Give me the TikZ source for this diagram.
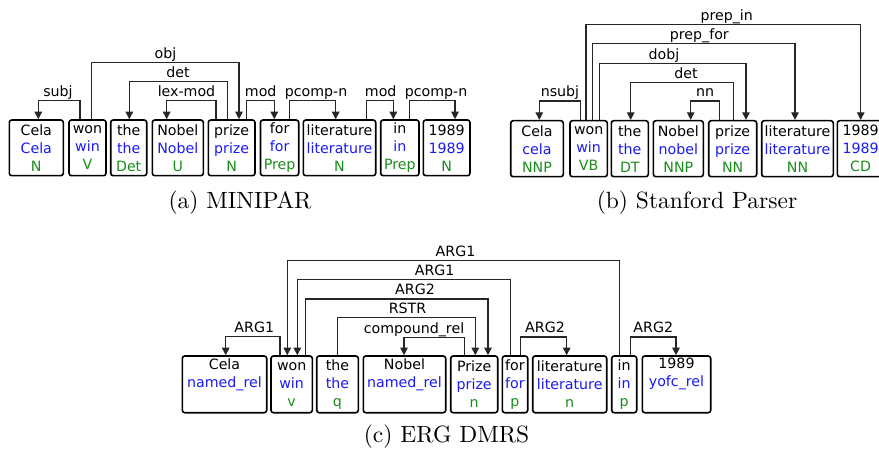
\documentclass[tikz,border=0pt]{standalone}
\usepackage{fontspec}
\usetikzlibrary{arrows.meta}
\newfontfamily\boxfont{DejaVu Sans}
\newfontfamily\capfont{lmroman10-regular}[Extension=.otf]
\definecolor{lemcol}{RGB}{25,25,245}
\definecolor{poscol}{RGB}{25,140,25}
\newcommand\lem[1]{\textcolor{lemcol}{#1}}
\newcommand\pos[1]{\textcolor{poscol}{#1}}
% word box: name, left, right, top, bottom, contents
\newcommand\wordbox[6]{%
  \node[wbox, minimum width={#3-#2}, minimum height={#5-#4}] (#1)
    at ({(#2+#3)/2},{(#4+#5)/2}) {#6};}
% arc: from node, x at source, level, x at target, to node
\newcommand\deparc[5]{%
  \draw[conn] (#1.north -| #2,0) |- (#4,#3) -- (#5.north -| #4,0);}
\tikzset{
  wbox/.style={draw=black, line width=1.6pt, rounded corners=2.5pt,
    inner sep=0pt, align=center,
    font=\boxfont\fontsize{14.2}{18}\selectfont},
  conn/.style={draw=black!85, line width=1.1pt,
    -{Triangle[length=7.5pt,width=7.5pt]}},
  lab/.style={anchor=base, inner sep=0pt,
    font=\boxfont\fontsize{14.2}{18}\selectfont},
  captext/.style={anchor=base, inner sep=0pt,
    font=\capfont\fontsize{23.5}{28}\selectfont}
}
\begin{document}
\begin{tikzpicture}[x=1pt,y=-1pt]
\useasboundingbox (0,0) rectangle (879,449);

% ---------- (a) MINIPAR ----------
\wordbox{a1}{9.3}{63.3}{120}{175.7}{Cela\\\lem{Cela}\\\pos{N}}
\wordbox{a2}{69}{106}{120}{175.7}{won\\\lem{win}\\\pos{V}}
\wordbox{a3}{110.7}{146.7}{120}{175.7}{the\\\lem{the}\\\pos{Det}}
\wordbox{a4}{152.3}{203.3}{120}{175.7}{Nobel\\\lem{Nobel}\\\pos{U}}
\wordbox{a5}{208.3}{255}{120}{175.7}{prize\\\lem{prize}\\\pos{N}}
\wordbox{a6}{260.5}{298.7}{120}{175.7}{for\\\lem{for}\\\pos{Prep}}
\wordbox{a7}{303.3}{375.7}{120}{175.7}{literature\\\lem{literature}\\\pos{N}}
\wordbox{a8}{380.7}{419}{120}{175.7}{in\\\lem{in}\\\pos{Prep}}
\wordbox{a9}{423.3}{470}{120}{175.7}{1989\\\lem{1989}\\\pos{N}}

\deparc{a2}{80}{100.7}{38.3}{a1}
\deparc{a2}{91.7}{62.3}{239}{a5}
\deparc{a5}{227.3}{81.7}{129.3}{a3}
\deparc{a5}{216}{100.7}{166.7}{a4}
\deparc{a5}{246.7}{100.7}{274.3}{a6}
\deparc{a6}{289.3}{100.7}{335.7}{a7}
\deparc{a7}{366.7}{100.7}{393.3}{a8}
\deparc{a8}{409.3}{100.7}{455}{a9}

\node[lab] (la1) at (58,96.7) {subj};
\node[lab] (la2) at (165.5,58.3) {obj};
\node[lab] (la3) at (178,77.7) {det};
\node[lab] (la4) at (186.5,96.7) {lex-mod};
\node[lab] (la5) at (260.7,96.7) {mod};
\node[lab] (la6) at (316,96.7) {pcomp-n};
\node[lab] (la7) at (380.7,96.7) {mod};
\node[lab] (la8) at (436,96.7) {pcomp-n};

\node[captext] (capa) at (240,209) {(a) MINIPAR};

% ---------- (b) Stanford Parser ----------
\wordbox{b1}{510.7}{563.3}{120.7}{176.7}{Cela\\\lem{cela}\\\pos{NNP}}
\wordbox{b2}{570}{607.3}{120.7}{176.7}{won\\\lem{win}\\\pos{VB}}
\wordbox{b3}{611.3}{648.3}{120.7}{176.7}{the\\\lem{the}\\\pos{DT}}
\wordbox{b4}{653.3}{703.3}{120.7}{176.7}{Nobel\\\lem{nobel}\\\pos{NNP}}
\wordbox{b5}{708.7}{756.7}{120.7}{176.7}{prize\\\lem{prize}\\\pos{NN}}
\wordbox{b6}{761.7}{833.3}{120.7}{176.7}{literature\\\lem{literature}\\\pos{NN}}
\wordbox{b7}{837.3}{884}{120.7}{176.7}{1989\\\lem{1989}\\\pos{CD}}

\deparc{b2}{580.7}{101}{539.3}{b1}
\deparc{b2}{586}{24.3}{860.7}{b7}
\deparc{b2}{592.3}{43.7}{795}{b6}
\deparc{b2}{599.3}{63.3}{746}{b5}
\deparc{b5}{733.3}{82.3}{630.7}{b3}
\deparc{b5}{719.3}{101}{690.7}{b4}

\node[lab] (lb1) at (560,97) {nsubj};
\node[lab] (lb2) at (726.7,20.3) {prep\_in};
\node[lab] (lb3) at (699.3,39.7) {prep\_for};
\node[lab] (lb4) at (664,59.3) {dobj};
\node[lab] (lb5) at (686,78.3) {det};
\node[lab] (lb6) at (705,97) {nn};

\node[captext] (capb) at (697,209) {(b) Stanford Parser};

% ---------- (c) ERG DMRS ----------
\wordbox{c1}{182.3}{266.7}{356}{412.7}{Cela\\\lem{named\_rel}\\\strut}
\wordbox{c2}{271}{312.3}{356}{412.7}{won\\\lem{win}\\\pos{v}}
\wordbox{c3}{316.7}{358.3}{356}{412.7}{the\\\lem{the}\\\pos{q}}
\wordbox{c4}{363.3}{445.7}{356}{412.7}{Nobel\\\lem{named\_rel}\\\strut}
\wordbox{c5}{450.7}{497.7}{356}{412.7}{Prize\\\lem{prize}\\\pos{n}}
\wordbox{c6}{502.3}{527.7}{356}{412.7}{for\\\lem{for}\\\pos{p}}
\wordbox{c7}{532.7}{606.7}{356}{412.7}{literature\\\lem{literature}\\\pos{n}}
\wordbox{c8}{611.7}{636.7}{356}{412.7}{in\\\lem{in}\\\pos{p}}
\wordbox{c9}{642.3}{710.7}{356}{412.7}{1989\\\lem{yofc\_rel}\\\strut}

\deparc{c2}{280}{336.7}{225.7}{c1}
\deparc{c8}{619.3}{260.3}{287.3}{c2}
\deparc{c6}{510.7}{279.5}{297.3}{c2}
\deparc{c2}{305.7}{299}{488}{c5}
\deparc{c3}{337.3}{317.7}{475.3}{c5}
\deparc{c5}{464.3}{337.3}{404}{c4}
\deparc{c6}{520.7}{337}{566.7}{c7}
\deparc{c8}{630.7}{337}{676}{c9}

\node[lab] (lc1) at (254.3,332.7) {ARG1};
\node[lab] (lc2) at (455.5,256.3) {ARG1};
\node[lab] (lc3) at (434.7,275.5) {ARG1};
\node[lab] (lc4) at (415,295) {ARG2};
\node[lab] (lc5) at (407.5,313.7) {RSTR};
\node[lab] (lc6) at (414,333.3) {compound\_rel};
\node[lab] (lc7) at (545,333) {ARG2};
\node[lab] (lc8) at (653.3,333) {ARG2};

\node[captext] (capc) at (446.5,442) {(c) ERG DMRS};
\end{tikzpicture}
\end{document}
